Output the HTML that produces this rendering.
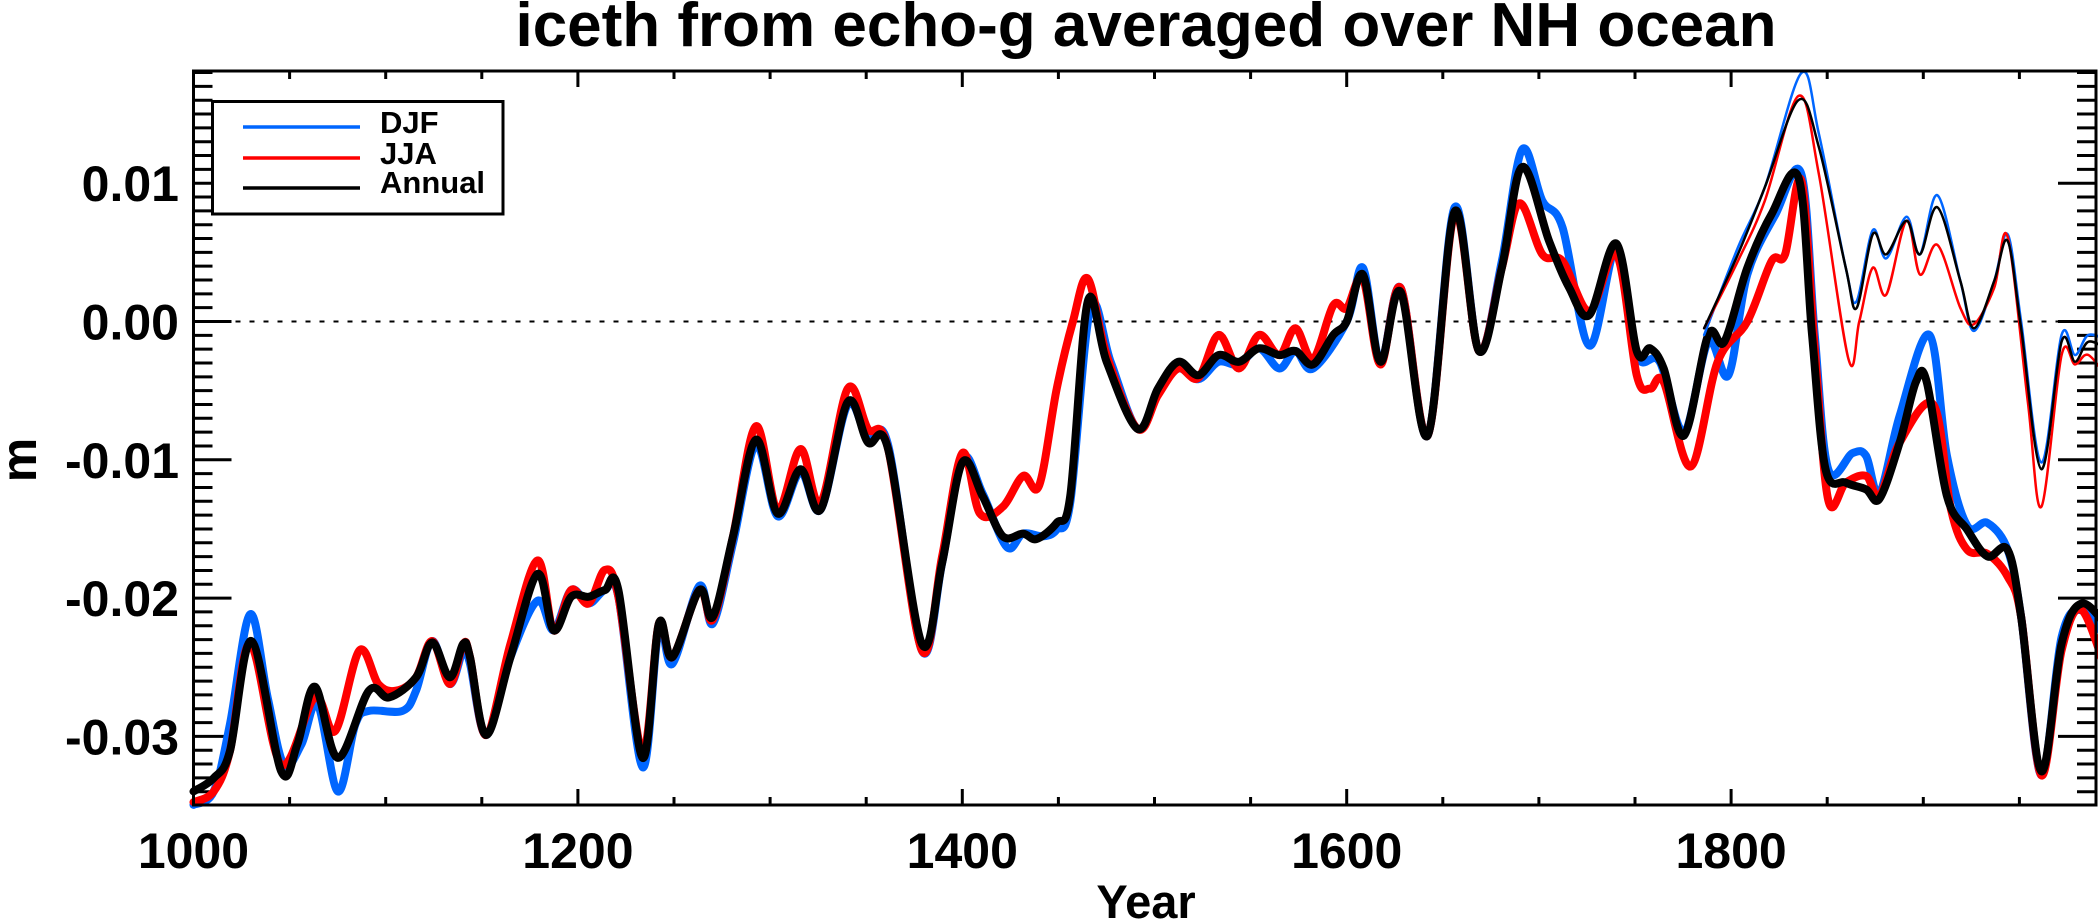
<!DOCTYPE html>
<html><head><meta charset="utf-8"><style>
html,body{margin:0;padding:0;background:#fff;}
svg{display:block;}
text{font-family:"Liberation Sans",sans-serif;font-weight:bold;fill:#000;}
</style></head><body>
<svg id="s" width="2098" height="923" viewBox="0 0 2098 923" xmlns="http://www.w3.org/2000/svg">
<text x="1146" y="46" font-size="62" text-anchor="middle">iceth from echo-g averaged over NH ocean</text>
<text x="1146" y="918" font-size="47" text-anchor="middle">Year</text>
<text transform="translate(36,460) rotate(-90)" font-size="50" text-anchor="middle">m</text>
<g id="ticks"></g>
<line x1="193.5" y1="321.5" x2="2096" y2="321.5" stroke="#000" stroke-width="2" stroke-dasharray="5,9"/>
<g id="curves" fill="none" stroke-linejoin="round" stroke-linecap="round"></g>
<rect x="193.5" y="71" width="1902.5" height="734" fill="none" stroke="#000" stroke-width="3"/>
<rect x="212.5" y="101.5" width="290.5" height="112.5" fill="#fff" stroke="#000" stroke-width="3"/>
<line x1="243" y1="127" x2="360" y2="127" stroke="#0066ff" stroke-width="3.5"/>
<line x1="243" y1="158" x2="360" y2="158" stroke="#ff0000" stroke-width="3.5"/>
<line x1="243" y1="188" x2="360" y2="188" stroke="#000" stroke-width="3.5"/>
<text x="380" y="133" font-size="31">DJF</text>
<text x="380" y="164" font-size="31">JJA</text>
<text x="380" y="193" font-size="31">Annual</text>
</svg>
<script>
(function(){
var X0=193.5,PX=1.922,Y0=321.5,PY=13830;
var t=document.getElementById("ticks"),h="";
function yx(yr){return X0+(yr-1000)*PX;}
function vy(v){return Y0-v*PY;}
for(var yr=1000;yr<=1990;yr+=50){var x=yx(yr),L=(yr%200==0)?16:8;
h+='<line x1="'+x+'" y1="805" x2="'+x+'" y2="'+(805-L)+'" stroke="#000" stroke-width="3"/>';
h+='<line x1="'+x+'" y1="71" x2="'+x+'" y2="'+(71+L)+'" stroke="#000" stroke-width="3"/>';
if(yr%200==0)h+='<text x="'+x+'" y="868" font-size="50" text-anchor="middle">'+yr+'</text>';}
for(var i=-35;i<=18;i++){var v=i/1000,y=vy(v);if(y<72||y>804)continue;var L=(i%10==0)?38:19;
h+='<line x1="193.5" y1="'+y+'" x2="'+(193.5+L)+'" y2="'+y+'" stroke="#000" stroke-width="3"/>';
h+='<line x1="2096" y1="'+y+'" x2="'+(2096-L)+'" y2="'+y+'" stroke="#000" stroke-width="3"/>';
if(i%10==0){var lab=(i==0)?"0.00":(i<0?"-":"")+(Math.abs(i)/1000).toFixed(2);
h+='<text x="179" y="'+(y+18)+'" font-size="50" text-anchor="end">'+lab+'</text>';}}
t.innerHTML=h;
function tr(p){return [X0+(p[0]-145)*1.3488,Y0+(p[1]-240)*1.3427];}
function path(a){var p=a.map(tr),d="M"+p[0][0]+","+p[0][1];
for(var i=0;i<p.length-1;i++){var p0=p[i-1]||p[i],p1=p[i],p2=p[i+1],p3=p[i+2]||p2;
d+=" C"+(p1[0]+(p2[0]-p0[0])/6)+","+(p1[1]+(p2[1]-p0[1])/6)+" "+(p2[0]-(p3[0]-p1[0])/6)+","+(p2[1]-(p3[1]-p1[1])/6)+" "+p2[0]+","+p2[1];}return d;}
function P(s){return s.trim().split(/\s+/).map(function(q){return q.split(",").map(Number);});}
var blue=P("145,600 160,590 172,540 187,458 200,520 212,570 225,555 237,525 252,590 265,540 275,530 300,530 310,515 322,478 335,510 345,485 350,495 362,548 380,490 400,448 412,470 425,440 438,450 450,440 460,445 478,572 490,468 500,495 520,437 530,465 545,405 562,332 578,385 595,352 610,380 630,302 645,328 660,332 685,485 700,420 715,342 730,368 748,408 760,398 775,400 785,395 795,375 810,230 825,270 845,320 860,292 875,275 890,283 905,270 920,272 935,260 950,275 962,262 975,275 1000,240 1012,200 1025,270 1040,215 1060,325 1080,155 1098,262 1115,195 1130,112 1145,150 1160,170 1180,258 1200,185 1215,265 1232,270 1250,322 1268,255 1283,280 1297,205 1318,160 1337,130 1347,250 1357,350 1375,338 1385,340 1395,368 1410,310 1432,250 1445,340 1460,392 1475,390 1490,410 1500,460 1515,578 1530,475 1545,455 1566,480");
var red=P("145,598 160,590 172,560 187,480 210,570 235,520 250,545 268,485 282,510 295,515 310,505 322,478 335,510 345,480 350,490 362,548 380,480 400,418 412,470 425,440 438,450 450,425 460,445 478,560 490,465 500,490 520,440 530,462 545,400 562,318 578,380 595,335 610,375 630,290 645,320 660,335 685,485 700,415 715,338 728,383 745,378 760,355 772,362 785,290 797,240 808,208 822,265 845,320 860,295 875,275 890,282 905,250 920,275 935,250 950,265 962,245 975,268 990,228 1000,230 1012,208 1025,272 1040,215 1060,325 1080,160 1098,262 1115,200 1128,152 1145,190 1160,195 1180,232 1200,190 1215,280 1225,290 1235,285 1255,348 1275,270 1297,240 1315,195 1325,190 1337,135 1347,260 1357,373 1370,360 1385,355 1395,370 1410,330 1435,302 1448,380 1460,410 1475,413 1490,430 1500,460 1515,578 1530,485 1545,455 1566,510");
var blk=P("145,590 160,580 172,560 188,478 210,575 222,555 235,512 252,565 275,515 290,520 310,505 322,479 335,505 345,480 350,490 362,548 380,490 400,428 412,470 425,445 438,445 450,440 460,440 478,565 490,465 500,490 520,440 530,460 545,400 562,328 578,383 595,350 610,380 630,300 645,330 660,335 685,480 700,420 715,345 730,370 745,400 760,398 770,402 785,390 795,370 808,225 822,270 845,320 860,290 875,270 890,280 905,265 920,270 935,260 950,265 962,262 975,272 990,250 1000,240 1012,205 1025,270 1040,218 1060,325 1080,158 1098,262 1115,200 1130,125 1150,180 1165,215 1180,235 1200,182 1215,262 1225,260 1235,275 1250,325 1268,250 1280,255 1297,200 1315,160 1335,133 1345,250 1355,350 1370,360 1385,365 1395,372 1410,330 1422,285 1430,285 1445,370 1460,395 1475,415 1490,410 1500,460 1515,575 1530,480 1545,450 1566,470");
var tb=P("1265,250 1290,185 1310,140 1337,55 1350,100 1370,200 1378,225 1390,172 1400,193 1415,162 1425,190 1438,146 1455,210 1465,247 1480,210 1490,175 1500,240 1515,345 1530,250 1540,265 1550,250 1566,255");
var trd=P("1265,245 1290,195 1310,150 1335,72 1350,130 1372,268 1380,240 1390,200 1400,220 1415,165 1425,205 1438,183 1455,230 1465,242 1480,215 1490,177 1505,300 1515,378 1530,265 1540,272 1550,265 1566,285");
var tk=P("1265,245 1290,190 1310,140 1335,75 1350,110 1370,200 1378,230 1390,175 1400,190 1415,165 1425,190 1438,155 1455,210 1465,245 1480,210 1490,180 1500,245 1515,350 1530,255 1540,270 1550,255 1566,262");
var c=document.getElementById("curves"),o="";
[[blue,"#0066ff",8],[red,"#ff0000",8],[blk,"#000",8],[tb,"#0066ff",2.5],[trd,"#ff0000",2.5],[tk,"#000",2.5]].forEach(function(s){
o+='<path d="'+path(s[0])+'" stroke="'+s[1]+'" stroke-width="'+s[2]+'"/>';});
c.innerHTML=o;
})();
</script>
</body></html>
